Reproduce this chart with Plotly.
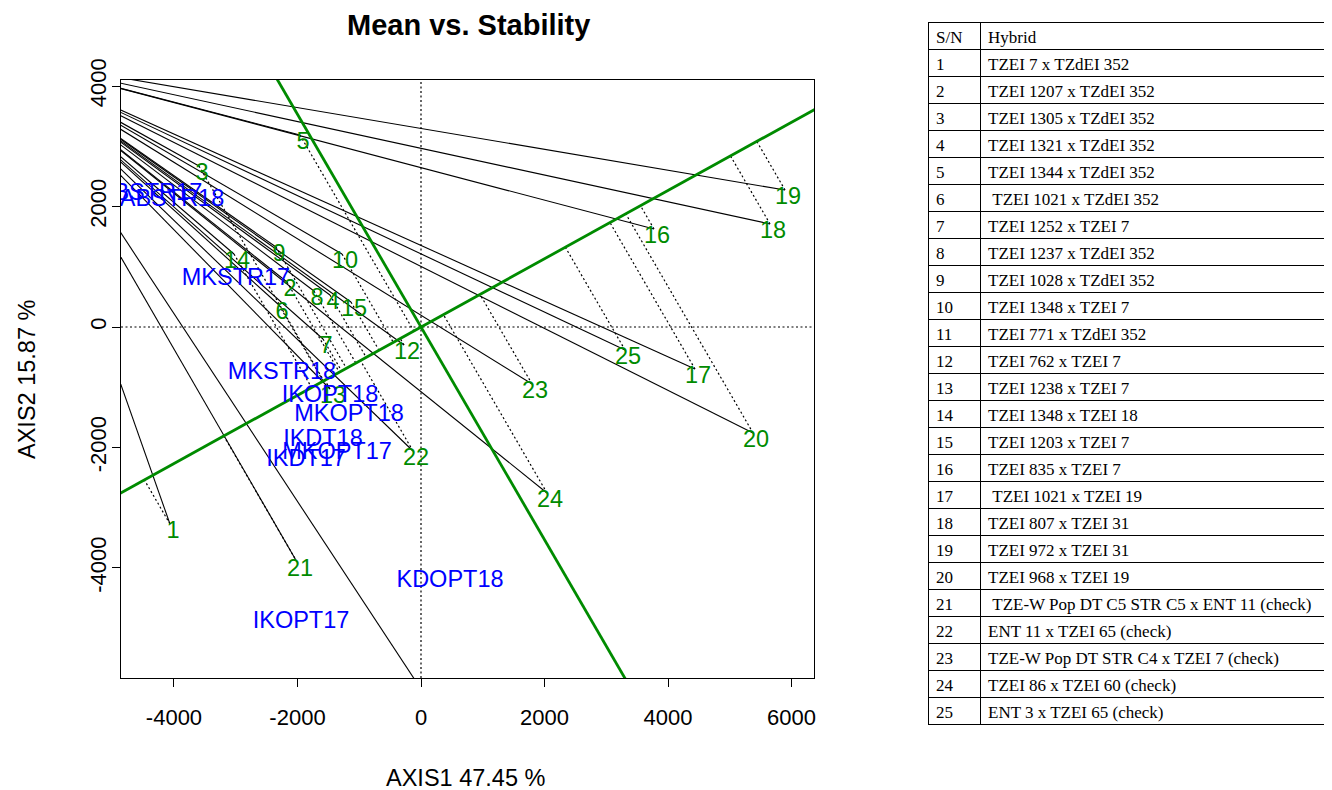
import numpy as np
import plotly.graph_objects as go

# ---------------- data ----------------
gen_ids = [str(i) for i in range(1, 26)]
gen_x = [-4065, -2170, -3595, -1474, -1960, -2300, -1587, -1733, -2348, -1279,
         275, -275, -1474, -3028, -1134, 3773, 4437, 5652, 5895, 5377,
         -2008, -130, 1798, 2040, 3304]
gen_y = [-3270, 747, 2672, 531, 3187, 365, -199, 598, 1328, 1212,
         -6440, -299, -1029, 1212, 415, 1627, -697, 1710, 2274, -1759,
         -3900, -2058, -946, -2755, -382]

env_names = ["ABSTR17", "ABSTR18", "MKSTR17", "MKSTR18", "IKOPT18", "MKOPT18",
             "IKDT18", "MKOPT17", "IKDT17", "KDOPT18", "IKOPT17"]
env_x = [-4389, -4032, -2996, -2251, -1474, -1166, -1587, -1360, -1862, 470, -1943]
env_y = [2207, 2108, 797, -763, -1145, -1461, -1876, -2091, -2207, -4216, -4896]

ray_origin = (-6720, 4460)      # common point the solid rays start from
aea_dir = (1.0, 0.5665)         # direction of the average-environment axis

x_range = [-4858, 6364]
y_range = [-5826, 4100]
x_ticks = [-4000, -2000, 0, 2000, 4000, 6000]
y_ticks = [-4000, -2000, 0, 2000, 4000]

table_sn = [str(i) for i in range(1, 26)]
table_hybrid = [
    "TZEI 7 x TZdEI 352", "TZEI 1207 x TZdEI 352", "TZEI 1305 x TZdEI 352",
    "TZEI 1321 x TZdEI 352", "TZEI 1344 x TZdEI 352", "\u00a0TZEI 1021 x TZdEI 352",
    "TZEI 1252 x TZEI 7", "TZEI 1237 x TZdEI 352", "TZEI 1028 x TZdEI 352",
    "TZEI 1348 x TZEI 7", "TZEI 771 x TZdEI 352", "TZEI 762 x TZEI 7",
    "TZEI 1238 x TZEI 7", "TZEI 1348 x TZEI 18", "TZEI 1203 x TZEI 7",
    "TZEI 835 x TZEI 7", "\u00a0TZEI 1021 x TZEI 19", "TZEI 807 x TZEI 31",
    "TZEI 972 x TZEI 31", "TZEI 968 x TZEI 19",
    "\u00a0TZE-W Pop DT C5 STR C5 x ENT 11 (check)", "ENT 11 x TZEI 65 (check)",
    "TZE-W Pop DT STR C4 x TZEI 7 (check)", "TZEI 86 x TZEI 60 (check)",
    "ENT 3 x TZEI 65 (check)"]

# ---------------- layout constants ----------------
W, H = 1332, 790
OFF = 8                                # page body margin
PL, PR, PT, PB = 121, 814, 80, 678     # plot box in screen pixels
GREEN = "#008B00"
BLUE = "#0000FF"
SANS = "Liberation Sans, Arial, sans-serif"
SERIF = "Liberation Serif, Times New Roman, serif"
ROW_H = 27

def px(x):
    return (x - OFF) / W

def py(y):
    return 1 - (y - OFF) / H

gx = np.array(gen_x, float)
gy = np.array(gen_y, float)

# label offset (pixels right / down) converted to data units
ux = (x_range[1] - x_range[0]) / (PR - PL)
uy = (y_range[1] - y_range[0]) / (PB - PT)
lab_dx, lab_dy = 3 * ux, -8 * uy

fig = go.Figure()

# solid rays
rx, ry = [], []
for x, y in zip(gx, gy):
    rx += [ray_origin[0], x, None]
    ry += [ray_origin[1], y, None]
fig.add_trace(go.Scatter(x=rx, y=ry, mode="lines",
                         line=dict(color="black", width=1.1), hoverinfo="skip"))

# dotted projections onto the AEA
u = np.array(aea_dir) / np.hypot(*aea_dir)
inside = (gx >= x_range[0]) & (gx <= x_range[1]) & (gy >= y_range[0]) & (gy <= y_range[1])
dx_, dy_ = [], []
for x, y, ok in zip(gx, gy, inside):
    if not ok:
        continue
    t = x * u[0] + y * u[1]
    dx_ += [x, t * u[0], None]
    dy_ += [y, t * u[1], None]
fig.add_trace(go.Scatter(x=dx_, y=dy_, mode="lines",
                         line=dict(color="black", width=1.2, dash="2px,2.5px"),
                         hoverinfo="skip"))

# dotted reference axes through origin
fig.add_trace(go.Scatter(x=[0, 0], y=y_range, mode="lines",
                         line=dict(color="black", width=1.2, dash="2px,2.5px"), hoverinfo="skip"))
fig.add_trace(go.Scatter(x=x_range, y=[0, 0], mode="lines",
                         line=dict(color="black", width=1.2, dash="2px,2.5px"), hoverinfo="skip"))

# green AEA line and its perpendicular through origin
span = 20000
fig.add_trace(go.Scatter(x=[-span * u[0], span * u[0]], y=[-span * u[1], span * u[1]],
                         mode="lines", line=dict(color=GREEN, width=2.8), hoverinfo="skip"))
fig.add_trace(go.Scatter(x=[span * u[1], -span * u[1]], y=[-span * u[0], span * u[0]],
                         mode="lines", line=dict(color=GREEN, width=2.8), hoverinfo="skip"))

# genotype labels
fig.add_trace(go.Scatter(x=gx + lab_dx, y=gy + lab_dy, mode="text", text=gen_ids,
                         textposition="middle center", cliponaxis=True,
                         textfont=dict(family=SANS, size=23.5, color=GREEN), hoverinfo="skip"))
# environment labels
fig.add_trace(go.Scatter(x=env_x, y=env_y, mode="text", text=env_names,
                         textposition="middle center", cliponaxis=True,
                         textfont=dict(family=SANS, size=23.5, color=BLUE), hoverinfo="skip"))

# table
tbl_top = 22
tbl_bot = tbl_top + ROW_H * (len(table_sn) + 1) + 1
fig.add_trace(go.Table(
    domain=dict(x=[px(928), 1.0], y=[py(tbl_bot), py(tbl_top)]),
    columnwidth=[51, 353],
    header=dict(values=["S/N", "Hybrid"], align="left", height=ROW_H,
                fill_color="white", line=dict(color="black", width=1),
                font=dict(family=SERIF, size=17, color="black")),
    cells=dict(values=[table_sn, table_hybrid], align="left", height=ROW_H,
               fill_color="white", line=dict(color="black", width=1),
               font=dict(family=SERIF, size=17, color="black")),
))

axis_common = dict(showgrid=False, zeroline=False, showline=True, mirror=True,
                   linecolor="black", linewidth=1, ticks="outside", ticklen=8,
                   tickcolor="black", tickwidth=1, automargin=False,
                   tickfont=dict(family=SANS, size=22, color="black"))

fig.update_layout(
    width=W, height=H, margin=dict(l=0, r=0, t=0, b=0, autoexpand=False),
    paper_bgcolor="white", plot_bgcolor="white", showlegend=False,
    xaxis=dict(domain=[px(PL), px(PR)], range=x_range, tickvals=x_ticks,
               ticktext=[str(v) for v in x_ticks],
               ticklabelstandoff=12, **axis_common),
    yaxis=dict(domain=[py(PB), py(PT)], range=y_range, tickvals=y_ticks,
               ticktext=[str(v) for v in y_ticks],
               tickangle=-90, ticklabelstandoff=-3, **axis_common),
    annotations=[
        dict(text="<b>Mean vs. Stability</b>", x=px(468), y=py(25), xref="paper", yref="paper",
             showarrow=False, xanchor="center", yanchor="middle",
             font=dict(family=SANS, size=29, color="black")),
        dict(text="AXIS1 47.45 %", x=px(465), y=py(778), xref="paper", yref="paper",
             showarrow=False, xanchor="center", yanchor="middle",
             font=dict(family=SANS, size=23.5, color="black")),
        dict(text="AXIS2 15.87 %", x=px(27), y=py(380), xref="paper", yref="paper",
             showarrow=False, xanchor="center", yanchor="middle", textangle=-90,
             font=dict(family=SANS, size=23.5, color="black")),
    ],
)

fig.write_html("out.html")
